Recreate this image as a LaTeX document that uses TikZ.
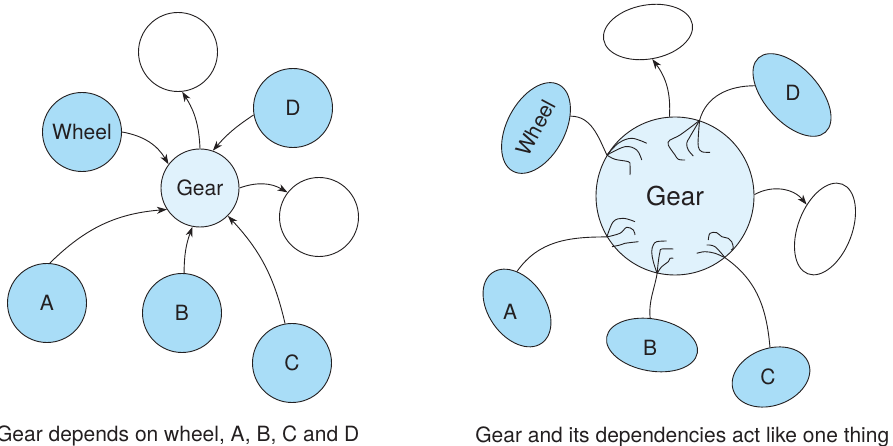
\documentclass[tikz,border=0pt]{standalone}
\usepackage{fontspec}
\setmainfont{TeX Gyre Heros}
\usetikzlibrary{arrows.meta,shapes.geometric}
\definecolor{depblue}{HTML}{A9DDF7}
\definecolor{gearblue}{HTML}{E0F2FC}
\definecolor{ink}{HTML}{231F20}

\begin{document}
\begin{tikzpicture}[x=1pt, y=1pt, -{Stealth[length=10pt,width=7pt,inset=3pt]}, line width=0.9pt, ink,
    dep/.style={circle, draw=ink, fill=depblue, minimum size=79pt, inner sep=0pt, font=\fontsize{21}{25}\selectfont},
    free/.style={dep, fill=white},
    core/.style={dep, fill=gearblue, minimum size=78pt},
    blob/.style={ellipse, draw=ink, fill=depblue, inner sep=0pt, font=\fontsize{21}{25}\selectfont},
    tag/.style={font=\fontsize{21}{25}\selectfont},
    root/.style={-, line width=0.9pt}]
\useasboundingbox (0,0) rectangle (893,446);

% left: the arrows
\node[core] (Lgear) at (200,258) {Gear};
\node[free] (Ltop) at (178,394) {};
\node[dep] (Lwheel) at (82,314) {Wheel};
\node[dep] (Ld) at (293,338) {D};
\node[free] (Lfree) at (319,229) {};
\node[dep] (La) at (47,143) {A};
\node[dep] (Lb) at (182,133) {B};
\node[dep] (Lc) at (292,83) {C};
\draw (Lgear.north) to[bend right=15] (Ltop.-84);
\draw (Lwheel.east) to[bend left=25] (Lgear.143);
\draw (Ld.190) to[bend right=8] (Lgear.71);
\draw (Lgear.east) to[bend left=25] (Lfree.142);
\draw (La.86) to[bend left=20] (Lgear.213);
\draw (Lb.87) to[bend left=10] (Lgear.259);
\draw (Lc.100) to[bend right=15] (Lgear.-45);
\node[tag, anchor=base east] (capL) at (363,4) {Gear depends on wheel, A, B, C and D};

% right: one lump
\node[core, minimum size=158pt, font=\fontsize{26}{30}\selectfont] (Rgear) at (675,250) {Gear};
\node[blob, fill=white, minimum width=90pt, minimum height=54pt, rotate=10] (Rtop) at (648,414) {};
\node[blob, minimum width=98pt, minimum height=58pt, rotate=62] (Rwheel) at (536,318) {Wheel};
\node[blob, minimum width=100pt, minimum height=54pt, rotate=-48] (Rd) at (792,351) {};
\node[tag] (Rd-t) at (793,353) {D};
\node[blob, fill=white, minimum width=96pt, minimum height=54pt, rotate=69] (Rfree) at (825,217) {};
\node[blob, minimum width=86pt, minimum height=57pt, rotate=-55] (Ra) at (517,138) {};
\node[tag] (Ra-t) at (510,134) {A};
\node[blob, minimum width=92pt, minimum height=52pt, rotate=-10] (Rb) at (652,101) {};
\node[tag] (Rb-t) at (650,98) {B};
\node[blob, minimum width=80pt, minimum height=57pt, rotate=20] (Rc) at (771,69) {};
\node[tag] (Rc-t) at (768,69) {C};
\draw (Rgear.94) to[bend right=20] (Rtop.-91);
\draw (Rgear.1) to[bend left=40] (Rfree.58);
\draw[-] (Rwheel.-43) to[out=0,in=115] (Rgear.149);
\draw[-] (Rd.214) to[out=180,in=75] (Rgear.72);
\draw[-] (Ra.145) to[out=55,in=180] (Rgear.211);
\draw[-] (Rb.104) to[out=95,in=-100] (Rgear.257);
\draw[-] (Rc.72) to[out=95,in=-35] (Rgear.-51);
% roots inside the gear
\draw[root] plot[smooth, tension=0.6] coordinates {(Rgear.149) (618.3,302.7) (631.7,307.7) (646.7,302.7)};
\draw[root] plot[smooth, tension=0.6] coordinates {(Rgear.149) (625,299.3) (636.7,296) (641.7,286)};
\draw[root] plot[smooth, tension=0.6] coordinates {(Rgear.149) (615,286.7) (628.3,284.3) (630,281) (630,271)};
\draw[root] plot[smooth, tension=0.6] coordinates {(Rgear.72) (698.3,309.3) (698.3,299.3) (701.7,294.3) (710,293.7)};
\draw[root] plot[smooth, tension=0.6] coordinates {(Rgear.72) (690,309.3) (686.7,302.7) (688.3,296) (693.3,290)};
\draw[root] plot[smooth, tension=0.6] coordinates {(Rgear.72) (680,311) (670,306) (668.3,301) (675,291) (678.3,286.7) (685,286)};
\draw[root] plot[smooth, tension=0.6] coordinates {(Rgear.211) (613.3,224.3) (623.3,227.7) (635,224.3)};
\draw[root] plot[smooth, tension=0.6] coordinates {(Rgear.211) (620,212.7) (626.7,218.7) (633.3,216) (635,211)};
\draw[root] plot[smooth, tension=0.6] coordinates {(612,199.3) (620,201) (625,202.7) (638.3,204.3)};
\draw[root] plot[smooth, tension=0.6] coordinates {(Rgear.257) (653.3,184.3) (651.7,194.3) (653.3,201) (656.7,204.3) (666.7,205)};
\draw[root] plot[smooth, tension=0.6] coordinates {(Rgear.257) (658.3,184.3) (660,194.3) (661.7,197) (673.3,197)};
\draw[root] plot[smooth, tension=0.6] coordinates {(Rgear.257) (661.7,179.3) (668.3,184.3) (670,187.7) (673.3,187.7)};
\draw[root] plot[smooth, tension=0.6] coordinates {(Rgear.-51) (715,192.7) (705,194.3) (696.7,192.7)};
\draw[root] plot[smooth, tension=0.6] coordinates {(Rgear.-51) (715,199.3) (706.7,201)};
\draw[root] plot[smooth, tension=0.6] coordinates {(708.3,206) (710,212.7) (716.7,213.3) (721.7,209.3) (728.3,207.7) (731.7,204.3) (733.3,198) (731,196)};
\node[tag, anchor=base east] (capR) at (893,3) {Gear and its dependencies act like one thing};
\end{tikzpicture}
\end{document}
